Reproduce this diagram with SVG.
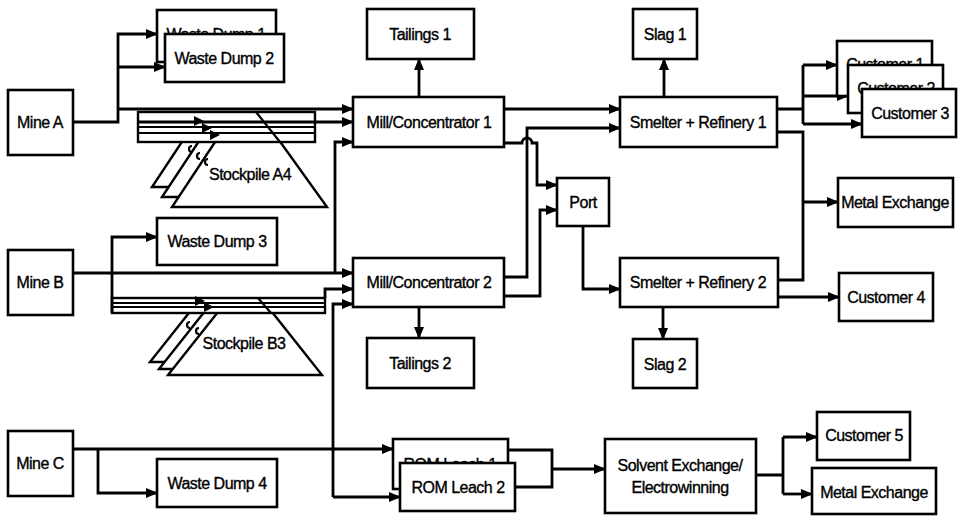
<svg xmlns="http://www.w3.org/2000/svg" width="958" height="516" viewBox="0 0 958 516">
<defs>
<style>
.box{fill:#fff;stroke:#000;stroke-width:2.6}
.ln{fill:none;stroke:#000;stroke-width:2.8}
.thin{fill:none;stroke:#000;stroke-width:2.2}
.pile{fill:#fff;stroke:#000;stroke-width:2.4}
.ah{fill:#000}
text{font-family:"Liberation Sans",Arial,sans-serif;font-size:16px;letter-spacing:-0.5px;text-anchor:middle;fill:#000;stroke:#000;stroke-width:0.35}
</style>
<marker id="arr" markerUnits="userSpaceOnUse" markerWidth="12" markerHeight="10" refX="11" refY="5" orient="auto">
<path d="M0,0 L12,5 L0,10 z" fill="#000"/>
</marker>
</defs>
<rect width="958" height="516" fill="#fff"/>

<g id="stockpile-a4">
<polygon class="pile" points="152,187 307,187 256,116 199,116"/>
<polygon class="pile" points="162,197 317,197 266,126 209,126"/>
<polygon class="pile" points="172,207 327,207 276,136 219,136"/>
<rect class="pile" x="138" y="112" width="177" height="30"/>
<line class="thin" x1="138" y1="127" x2="315" y2="127"/>
<line class="thin" x1="138" y1="133" x2="315" y2="133"/>
<line class="thin" x1="256" y1="112" x2="280" y2="142"/>
<polygon class="ah" points="194,116 204,121 194,126"/>
<polygon class="ah" points="202,123 212,128 202,133"/>
<polygon class="ah" points="210,130 220,135 210,140"/>
<path class="thin" d="M192,146 a3,3 0 1 0 0,6 M200,153 a3,3 0 1 0 0,6 M208,159 a3,3 0 1 0 0,6"/>
<text x="250" y="180">Stockpile A4</text>
</g>

<g id="stockpile-b3">
<polygon class="pile" points="150,362 304,362 254,299 200,299"/>
<polygon class="pile" points="159,369 313,369 263,306 209,306"/>
<polygon class="pile" points="168,375 322,375 272,312 218,312"/>
<rect class="pile" x="112" y="298" width="213" height="15"/>
<line class="thin" x1="112" y1="303" x2="325" y2="303"/>
<line class="thin" x1="112" y1="307" x2="325" y2="307"/>
<line class="thin" x1="258" y1="298" x2="271" y2="313"/>
<polygon class="ah" points="195,296 205,301 195,306"/>
<polygon class="ah" points="204,302 214,307 204,312"/>
<path class="thin" d="M190,322 a3,3 0 1 0 0,6 M199,328 a3,3 0 1 0 0,6"/>
<text x="244" y="349">Stockpile B3</text>
</g>

<g id="connectors">
<path class="ln" d="M73,122 H118 V34 H157" marker-end="url(#arr)"/>
<path class="ln" d="M118,67 H165" marker-end="url(#arr)"/>
<path class="ln" d="M118,109 H353" marker-end="url(#arr)"/>
<path class="ln" d="M138,122 H353" marker-end="url(#arr)"/>
<path class="ln" d="M335,273 V142 H353" marker-end="url(#arr)"/>
<path class="ln" d="M419,97 V59" marker-end="url(#arr)"/>
<path class="ln" d="M504,109 H620" marker-end="url(#arr)"/>
<path class="ln" d="M504,277 H527 V128 H620" marker-end="url(#arr)"/>
<path class="ln" d="M504,143 H522 a5,5 0 0 1 10,0 H537 V185 H557" marker-end="url(#arr)"/>
<path class="ln" d="M504,296 H540 V210 H557" marker-end="url(#arr)"/>
<path class="ln" d="M583,226 V289 H620" marker-end="url(#arr)"/>
<path class="ln" d="M664,97 V59" marker-end="url(#arr)"/>
<path class="ln" d="M777,109 H803 M803,65 V124"/>
<path class="ln" d="M803,65 H837" marker-end="url(#arr)"/>
<path class="ln" d="M803,96 H848" marker-end="url(#arr)"/>
<path class="ln" d="M803,124 H862" marker-end="url(#arr)"/>
<path class="ln" d="M777,132 H803 V280 H778"/>
<path class="ln" d="M803,202 H838" marker-end="url(#arr)"/>
<path class="ln" d="M663,307 V339" marker-end="url(#arr)"/>
<path class="ln" d="M778,297 H839" marker-end="url(#arr)"/>
<path class="ln" d="M419,307 V338" marker-end="url(#arr)"/>
<path class="ln" d="M73,273 H353" marker-end="url(#arr)"/>
<path class="ln" d="M112,313 V237 H157" marker-end="url(#arr)"/>
<path class="ln" d="M325,298 V289 H353" marker-end="url(#arr)"/>
<path class="ln" d="M333,497 V304 H353" marker-end="url(#arr)"/>
<path class="ln" d="M333,497 H400" marker-end="url(#arr)"/>
<path class="ln" d="M73,449 H393" marker-end="url(#arr)"/>
<path class="ln" d="M98,449 V493 H157" marker-end="url(#arr)"/>
<path class="ln" d="M508,450 H552 V487 H515"/>
<path class="ln" d="M552,469 H605" marker-end="url(#arr)"/>
<path class="ln" d="M756,475 H783 M783,437 V494"/>
<path class="ln" d="M783,437 H817" marker-end="url(#arr)"/>
<path class="ln" d="M783,494 H812" marker-end="url(#arr)"/>
</g>

<g id="mine-a"><rect class="box" x="8" y="90" width="65" height="65"/><text x="40" y="128">Mine A</text></g>
<g id="waste-dump-1"><rect class="box" x="157" y="10" width="119" height="52"/><text x="216" y="40">Waste Dump 1</text></g>
<g id="waste-dump-2"><rect class="box" x="165" y="34" width="119" height="48"/><text x="224" y="64">Waste Dump 2</text></g>
<g id="tailings-1"><rect class="box" x="367" y="9" width="107" height="50"/><text x="420" y="40">Tailings 1</text></g>
<g id="slag-1"><rect class="box" x="633" y="9" width="64" height="50"/><text x="665" y="40">Slag 1</text></g>
<g id="mill-1"><rect class="box" x="353" y="97" width="151" height="50"/><text x="429" y="128">Mill/Concentrator 1</text></g>
<g id="smelter-1"><rect class="box" x="620" y="97" width="157" height="50"/><text x="698" y="128">Smelter + Refinery 1</text></g>
<g id="customer-1"><rect class="box" x="837" y="41" width="95" height="55"/><text x="885" y="70">Customer 1</text></g>
<g id="customer-2"><rect class="box" x="848" y="65" width="95" height="48"/><text x="896" y="94">Customer 2</text></g>
<g id="customer-3"><rect class="box" x="862" y="89" width="94" height="48"/><text x="910" y="119">Customer 3</text></g>
<g id="metal-exchange-1"><rect class="box" x="838" y="178" width="115" height="49"/><text x="895" y="208">Metal Exchange</text></g>
<g id="port"><rect class="box" x="557" y="178" width="52" height="48"/><text x="583" y="208">Port</text></g>
<g id="mine-b"><rect class="box" x="8" y="250" width="65" height="65"/><text x="40" y="288">Mine B</text></g>
<g id="waste-dump-3"><rect class="box" x="157" y="218" width="120" height="47"/><text x="217" y="247">Waste Dump 3</text></g>
<g id="mill-2"><rect class="box" x="353" y="258" width="151" height="49"/><text x="429" y="288">Mill/Concentrator 2</text></g>
<g id="smelter-2"><rect class="box" x="620" y="258" width="158" height="49"/><text x="698" y="288">Smelter + Refinery 2</text></g>
<g id="customer-4"><rect class="box" x="839" y="273" width="94" height="48"/><text x="886" y="303">Customer 4</text></g>
<g id="tailings-2"><rect class="box" x="367" y="338" width="107" height="50"/><text x="420" y="369">Tailings 2</text></g>
<g id="slag-2"><rect class="box" x="633" y="339" width="64" height="49"/><text x="665" y="370">Slag 2</text></g>
<g id="mine-c"><rect class="box" x="8" y="431" width="65" height="65"/><text x="40" y="469">Mine C</text></g>
<g id="waste-dump-4"><rect class="box" x="157" y="459" width="120" height="48"/><text x="217" y="489">Waste Dump 4</text></g>
<g id="rom-leach-1"><rect class="box" x="393" y="439" width="115" height="50"/><text x="450" y="470">ROM Leach 1</text></g>
<g id="rom-leach-2"><rect class="box" x="400" y="463" width="115" height="48"/><text x="458" y="493">ROM Leach 2</text></g>
<g id="sx-ew"><rect class="box" x="605" y="439" width="151" height="74"/><text x="680" y="471">Solvent Exchange/</text><text x="680" y="493">Electrowinning</text></g>
<g id="customer-5"><rect class="box" x="817" y="412" width="93" height="48"/><text x="864" y="441">Customer 5</text></g>
<g id="metal-exchange-2"><rect class="box" x="812" y="468" width="124" height="46"/><text x="874" y="498">Metal Exchange</text></g>
</svg>
